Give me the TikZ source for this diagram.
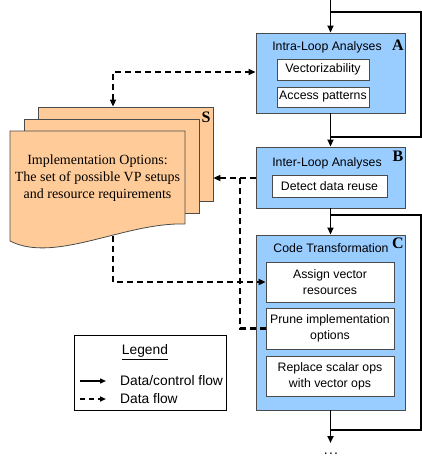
\documentclass[tikz,border=0pt]{standalone}
\usepackage{fontspec}
\setmainfont{Liberation Serif}
\newfontfamily\labelsans{Liberation Sans}
\usetikzlibrary{arrows.meta}

\definecolor{stageblue}{RGB}{153,204,255}
\definecolor{sheetorange}{RGB}{255,204,153}
\definecolor{edgegray}{RGB}{75,75,75}

\tikzset{
  tip/.tip={Triangle[length=7pt,width=6pt]},
  stage/.style={draw=edgegray, line width=0.9pt, fill=stageblue,
    minimum width=149pt, minimum height=#1, inner sep=0pt},
  task/.style={draw=edgegray, fill=white, line width=0.8pt, inner sep=0pt,
    align=center, font=\labelsans\fontsize{12.3}{16}\selectfont},
  sheet/.style={draw=edgegray, fill=sheetorange, line width=0.8pt,
    minimum width=175pt, minimum height=94pt, inner sep=0pt},
  flow/.style={line width=1.8pt, -tip},
  plainflow/.style={line width=1.8pt},
  dflow/.style={line width=2.2pt, dash pattern=on 6pt off 4pt},
  tag/.style={font=\bfseries\fontsize{16}{16}\selectfont, inner sep=0pt},
  heading/.style={font=\labelsans\fontsize{12.3}{15}\selectfont, inner sep=0pt},
  legendtext/.style={font=\labelsans\fontsize{13.8}{16}\selectfont, inner sep=0pt},
}

\begin{document}
\begin{tikzpicture}[x=1pt,y=-1pt]
\useasboundingbox (0,0) rectangle (422,456);

% ---- stage A ----
\node[stage=80pt] (A) at (330.5,73) {};
\node[heading] (Atitle) at (327,47) {Intra-Loop Analyses};
\node[tag] (Atag) at (398,45) {A};
\node[task, minimum width=92pt, minimum height=21pt] (vec) at (323,69.5) {Vectorizability};
\node[task, minimum width=92pt, minimum height=20pt] (acc) at (323,97) {Access patterns};

% ---- stage B ----
\node[stage=61pt] (B) at (330.5,177.5) {};
\node[heading] (Btitle) at (327,163) {Inter-Loop Analyses};
\node[tag] (Btag) at (398,156) {B};
\node[task, minimum width=115pt, minimum height=22pt] (reuse) at (329.5,186) {Detect data reuse};

% ---- stage C ----
\node[stage=175pt] (C) at (330.5,322.5) {};
\node[heading] (Ctitle) at (331,248) {Code Transformation};
\node[tag] (Ctag) at (398,243) {C};
\node[task, minimum width=128pt, minimum height=40pt] (assign) at (330,282) {Assign vector\\resources};
\node[task, minimum width=128pt, minimum height=41pt] (prune) at (330,328.5) {Prune implementation\\options};
\node[task, minimum width=128pt, minimum height=40pt] (replace) at (330,376) {Replace scalar ops\\with vector ops};

% ---- control flow ----
\coordinate (entry) at (330.5,0);
\draw[flow] (entry) -- (A.north);
\draw[flow] (A.south) -- (B.north);
\draw[flow] (B.south) -- (C.north);
\coordinate (exit) at (330.5,443);
\draw[flow] (C.south) -- (exit);
\node[font=\labelsans\fontsize{14}{14}\selectfont, inner sep=0pt, anchor=base] (dots) at (331,454) {.\kern1.2pt.\kern1.2pt.};

% loop around A
\coordinate (aJoin) at (330.5,137);
\coordinate (aTop) at (421,12);
\coordinate (aBack) at (330.5,12);
\draw[plainflow] (aJoin) -| (aTop) -- (aBack);
% loop around C
\coordinate (cJoin) at (330.5,215);
\coordinate (cBot) at (421,430);
\coordinate (cBack) at (330.5,430);
\draw[plainflow] (cJoin) -| (cBot) -- (cBack);

% ---- data flow to and from the option set ----
\node[sheet] (S3) at (125.5,154) {};
\coordinate (dA) at (113,72);
\draw[dflow, tip-tip] (S3.north -| dA) -- (dA) -- (A.west |- dA);
\coordinate (dB) at (240,178);
\draw[dflow, -tip] (B.west |- dB) -- (S3.east |- dB);
\coordinate (dP) at (240,328.5);
\draw[dflow] (prune.west) -- (dP) -- (dB);
\coordinate (sOut) at (113,236);
\coordinate (dS) at (113,282);
\draw[dflow, -tip] (sOut) -- (dS) -- (assign.west |- dS);

% ---- stacked option sheets ----
\node[sheet] (S2) at (111.5,166) {};
\draw[draw=edgegray, fill=sheetorange, line width=0.8pt]
  (10,131) -- (185,131) -- (185,224)
  .. controls (125,222) and (55,264) .. (10,241) -- cycle;
\node[align=center, font=\fontsize{14}{17}\selectfont, inner sep=0pt] (Stext) at (97.5,178)
  {Implementation Options:\\The set of possible VP setups\\and resource requirements};
\node[tag] (Stag) at (206,117) {S};

% ---- legend ----
\node[draw, line width=0.8pt, minimum width=152pt, minimum height=75pt, inner sep=0pt] (legend) at (150,372.5) {};
\node[legendtext] (legtitle) at (145,352) {\underline{Legend}};
\coordinate (l1a) at (80,381);
\coordinate (l1b) at (106,381);
\draw[line width=1.4pt, -{Triangle[length=6pt,width=5pt]}] (l1a) -- (l1b);
\node[legendtext, anchor=west] (l1t) at (120,381) {Data/control flow};
\coordinate (l2a) at (80,399);
\coordinate (l2b) at (106,399);
\draw[line width=2.2pt, dash pattern=on 5pt off 4pt, -{Triangle[length=6pt,width=5pt]}] (l2a) -- (l2b);
\node[legendtext, anchor=west] (l2t) at (120,399) {Data flow};
\end{tikzpicture}
\end{document}
